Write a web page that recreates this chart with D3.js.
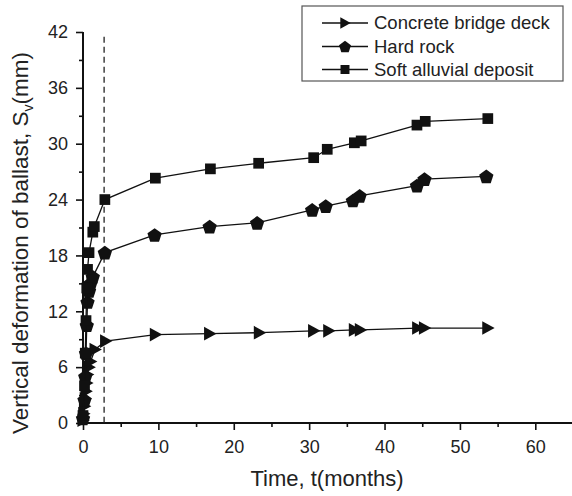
<!DOCTYPE html>
<html>
<head>
<meta charset="utf-8">
<script src="https://cdn.jsdelivr.net/npm/d3@7"></script>
<style>
  html, body { margin: 0; padding: 0; background: #fff; }
  svg { display: block; font-family: "Liberation Sans", Arial, sans-serif; }
</style>
</head>
<body>
<svg id="chart" width="572" height="496"></svg>
<script>
// ---- Data ----
const seriesNames = ["Concrete bridge deck", "Hard rock", "Soft alluvial deposit"];

const concreteT = [0, 0.1, 0.2, 0.3, 0.4, 0.5, 0.6, 0.8, 1.0, 1.6, 3.0, 9.6, 16.8, 23.4, 30.6, 32.6, 36.0, 36.8, 44.4, 45.3, 53.7];
const concreteV = [0.3, 1.0, 1.8, 2.6, 3.4, 4.3, 5.2, 6.0, 6.6, 7.9, 8.8, 9.5, 9.6, 9.7, 9.9, 9.9, 10.0, 10.0, 10.2, 10.2, 10.2];

const hardT = [0, 0.2, 0.3, 0.4, 0.5, 0.6, 0.8, 1.0, 1.3, 2.9, 9.5, 16.8, 23.1, 30.4, 32.2, 35.8, 36.7, 44.3, 45.3, 53.5];
const hardV = [0.5, 2.5, 5.0, 7.5, 10.5, 13.0, 14.2, 15.0, 15.7, 18.3, 20.2, 21.1, 21.5, 22.9, 23.3, 23.9, 24.4, 25.5, 26.2, 26.5];

const softT = [0, 0.2, 0.3, 0.4, 0.5, 0.6, 0.8, 1.3, 1.5, 2.9, 9.6, 16.9, 23.3, 30.6, 32.4, 36.0, 36.9, 44.3, 45.4, 53.7];
const softV = [0.8, 4.0, 7.5, 11.0, 14.5, 16.5, 18.3, 20.5, 21.1, 24.0, 26.3, 27.3, 27.9, 28.5, 29.4, 30.1, 30.3, 32.0, 32.4, 32.7];

const xTicks = [0, 10, 20, 30, 40, 50, 60];
const xMinorTicks = [5, 15, 25, 35, 45, 55, 65];
const yTicks = [0, 6, 12, 18, 24, 30, 36, 42];
const yMinorTicks = [3, 9, 15, 21, 27, 33, 39];
const dashedT = 2.8;

// ---- Layout ----
const svg = d3.select("#chart");
const x = d3.scaleLinear().domain([0, 65]).range([83, 573]);
const y = d3.scaleLinear().domain([0, 42]).range([423, 32]);

// marker shapes
const pentagon = {
  draw(ctx, size) {
    const r = Math.sqrt(size / 2.378);
    for (let i = 0; i < 5; i++) {
      const a = -Math.PI / 2 + i * 2 * Math.PI / 5;
      const px = r * Math.cos(a), py = r * Math.sin(a) + r * 0.1;
      if (i === 0) ctx.moveTo(px, py); else ctx.lineTo(px, py);
    }
    ctx.closePath();
  }
};
const triRight = {
  draw(ctx, size) {
    const h = Math.sqrt(size * 1.1);
    ctx.moveTo(h * 0.55, 0);
    ctx.lineTo(-h * 0.45, -h * 0.55);
    ctx.lineTo(-h * 0.45, h * 0.55);
    ctx.closePath();
  }
};

const series = [
  { name: seriesNames[0], t: concreteT, v: concreteV, sym: triRight, size: 140 },
  { name: seriesNames[1], t: hardT, v: hardV, sym: pentagon, size: 135 },
  { name: seriesNames[2], t: softT, v: softV, sym: d3.symbolSquare, size: 115 }
];

// ---- Axes ----
const axisColor = "#111";
const yAxis = svg.append("g").attr("transform", `translate(${x(0)},0)`)
  .call(d3.axisLeft(y).tickValues(yTicks).tickSize(7).tickPadding(8).tickFormat(d3.format("d")));
const yMinor = svg.append("g").attr("transform", `translate(${x(0)},0)`)
  .call(d3.axisLeft(y).tickValues(yMinorTicks).tickSize(4).tickFormat(""));
const xAxis = svg.append("g").attr("transform", `translate(0,${y(0)})`)
  .call(d3.axisBottom(x).tickValues(xTicks).tickSize(7).tickPadding(10).tickFormat(d3.format("d")));
const xMinor = svg.append("g").attr("transform", `translate(0,${y(0)})`)
  .call(d3.axisBottom(x).tickValues(xMinorTicks).tickSize(4).tickFormat(""));

[yAxis, yMinor, xAxis, xMinor].forEach(g => {
  g.select(".domain").attr("stroke", axisColor).attr("stroke-width", 2);
  g.selectAll(".tick line").attr("stroke", axisColor).attr("stroke-width", 1.6);
  g.selectAll(".tick text").attr("fill", "#222").style("font-size", "18px")
    .style("font-family", "'Liberation Sans', Arial, sans-serif");
});
yMinor.select(".domain").remove();
xMinor.select(".domain").remove();
yAxis.select(".domain").attr("d", `M0,${y(42)}V${y(0)}`);
xAxis.select(".domain").attr("d", `M${x(0)},0H${x(65)}`);

// ---- Dashed vertical line ----
svg.append("line")
  .attr("x1", x(dashedT)).attr("x2", x(dashedT))
  .attr("y1", y(41.5)).attr("y2", y(0))
  .attr("stroke", "#222").attr("stroke-width", 1.3)
  .attr("stroke-dasharray", "6,4");

// ---- Series ----
const line = d3.line().x(d => x(d[0])).y(d => y(d[1]));
series.forEach(s => {
  const pts = s.t.map((t, i) => [t, s.v[i]]);
  svg.append("path").datum(pts)
    .attr("d", line).attr("fill", "none")
    .attr("stroke", "#111").attr("stroke-width", 1.3);
  svg.append("g").selectAll("path").data(pts).join("path")
    .attr("transform", d => `translate(${x(d[0])},${y(d[1])})`)
    .attr("d", d3.symbol().type(s.sym).size(s.size)())
    .attr("fill", "#111");
});

// ---- Axis titles ----
svg.append("text")
  .attr("x", 327).attr("y", 486)
  .attr("text-anchor", "middle")
  .style("font-size", "22px").attr("fill", "#222")
  .text("Time, t(months)");

const yt = svg.append("text")
  .attr("transform", "translate(28,243) rotate(-90)")
  .attr("text-anchor", "middle")
  .style("font-size", "22.5px").attr("fill", "#222");
yt.append("tspan").text("Vertical deformation of ballast, S");
yt.append("tspan").attr("dy", 5).style("font-size", "14px").text("v");
yt.append("tspan").attr("dy", -5).text("(mm)");

// ---- Legend ----
const legend = svg.append("g");
legend.append("rect")
  .attr("x", 302).attr("y", 6).attr("width", 261).attr("height", 75)
  .attr("fill", "#fff").attr("stroke", "#555").attr("stroke-width", 1.2);
const rowY = [23, 46.5, 69.5];
series.forEach((s, i) => {
  const g = legend.append("g").attr("transform", `translate(0,${rowY[i]})`);
  g.append("line").attr("x1", 322).attr("x2", 368).attr("y1", 0).attr("y2", 0)
    .attr("stroke", "#111").attr("stroke-width", 1.4);
  g.append("path").attr("transform", "translate(345,0)")
    .attr("d", d3.symbol().type(s.sym).size(s.size * 0.7)())
    .attr("fill", "#111");
  g.append("text").attr("x", 374).attr("y", 0).attr("dy", "0.35em")
    .style("font-size", "18.5px").attr("fill", "#222").text(s.name);
});
</script>
</body>
</html>
